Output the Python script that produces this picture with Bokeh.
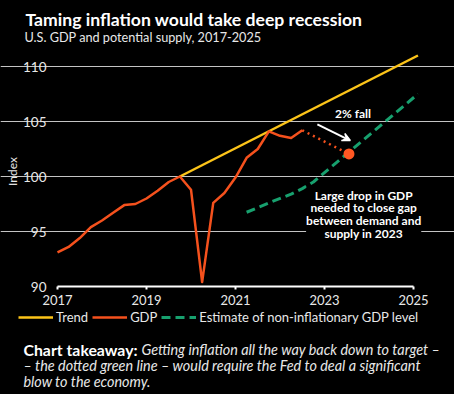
from math import pi
from bokeh.plotting import figure
from bokeh.models import Range1d, Label, Arrow, VeeHead, Legend, LegendItem, FixedTicker
from bokeh.embed import file_html
from bokeh.resources import INLINE

# ---- data ----
gdp_t = [2017.00, 2017.25, 2017.50, 2017.75, 2018.00, 2018.25, 2018.50, 2018.75,
         2019.00, 2019.25, 2019.50, 2019.75, 2020.00, 2020.25, 2020.50, 2020.75,
         2021.00, 2021.25, 2021.50, 2021.75, 2022.00, 2022.25, 2022.50]
gdp_v = [93.1, 93.6, 94.4, 95.4, 96.0, 96.7, 97.4, 97.5,
         98.0, 98.7, 99.5, 100.0, 98.8, 90.4, 97.6, 98.5,
         99.9, 101.7, 102.5, 104.1, 103.7, 103.5, 104.2]
trend_t = [2019.75, 2025.1]
trend_v = [100.0, 111.0]
est_t = [2021.25, 2021.75, 2022.25, 2022.50, 2022.75, 2023.00, 2025.10]
est_v = [96.75, 97.6, 98.4, 98.9, 99.5, 100.35, 107.5]
drop_t = [2022.50, 2023.55]
drop_v = [104.2, 102.05]
x_ticks = [2017, 2019, 2021, 2023, 2025]
y_ticks = [90, 95, 100, 105, 110]
grid_ticks = [95, 100, 105, 110]

FONT = "Lato"
TRENDC = "#fcc419"
GDPC = "#f5511d"
ESTC = "#17a06e"
TXT = "#e8e8e8"

W, H = 454, 394
# plot area: 2017 -> x=57px, 44.5 px/yr ; 90 -> y=286px, 11 px/unit (frame = whole canvas)
PX_YR, PX_U = 44.5, 11.0
x0 = 2017 - 57 / PX_YR
x1 = x0 + W / PX_YR
y0 = 90 - (H - 286) / PX_U
y1 = y0 + H / PX_U

p = figure(width=W, height=H, x_range=Range1d(x0, x1), y_range=Range1d(y0, y1),
           output_backend="svg", toolbar_location=None, title=None,
           min_border=0, min_border_left=0, min_border_right=0, min_border_top=0, min_border_bottom=0,
           background_fill_color="black", border_fill_color="black", outline_line_color=None)

try:
    from bokeh.models import GlobalInlineStyleSheet
    p.stylesheets = [GlobalInlineStyleSheet(css="html,body{margin:0;padding:0;background:#000;overflow:hidden;}")]
except Exception:
    pass

# grid
p.xgrid.visible = False
p.ygrid.ticker = FixedTicker(ticks=grid_ticks)
p.ygrid.bounds = (2017, 2025.09)
p.ygrid.grid_line_color = "#c4c4c4"
p.ygrid.grid_line_width = 1

# axes (anchored inside the canvas)
p.xaxis.fixed_location = 90
p.xaxis.ticker = FixedTicker(ticks=x_ticks)
p.xaxis.bounds = (2017, 2025)
p.xaxis.axis_line_color = "white"
p.xaxis.axis_line_width = 2
p.xaxis.major_tick_line_color = "white"
p.xaxis.major_tick_line_width = 2
p.xaxis.major_tick_in = 0
p.xaxis.major_tick_out = 3
p.xaxis.minor_tick_line_color = None
p.xaxis.major_label_standoff = 5
p.xaxis.major_label_text_color = TXT
p.xaxis.major_label_text_font = FONT
p.xaxis.major_label_text_font_size = "13px"

p.yaxis.fixed_location = 2017
p.yaxis.ticker = FixedTicker(ticks=y_ticks)
p.yaxis.axis_line_color = None
p.yaxis.major_tick_line_color = None
p.yaxis.minor_tick_line_color = None
p.yaxis.major_tick_in = 0
p.yaxis.major_tick_out = 0
p.yaxis.major_label_standoff = 11
p.yaxis.major_label_text_color = TXT
p.yaxis.major_label_text_font = FONT
p.yaxis.major_label_text_font_size = "13.5px"

# series
r_trend = p.line(trend_t, trend_v, line_color=TRENDC, line_width=2.5)
r_gdp = p.line(gdp_t, gdp_v, line_color=GDPC, line_width=2.5, line_join="round")
r_est = p.line(est_t, est_v, line_color=ESTC, line_width=3, line_dash="9 5")
p.line(drop_t, drop_v, line_color=GDPC, line_width=2.5, line_dash="2 4")
p.scatter(drop_t[-1:], drop_v[-1:], size=11, fill_color="#ff5722", line_color=None)

# annotations
p.add_layout(Arrow(end=VeeHead(size=8, line_color="white", fill_color="white", line_width=1.5),
                   x_start=2022.84, y_start=104.73, x_end=2023.58, y_end=103.27,
                   line_color="white", line_width=2))
p.add_layout(Label(x=2023.64, y=105.7, text="2% fall", text_align="center", text_baseline="middle",
                   text_color="white", text_font=FONT, text_font_style="bold",
                   text_font_size="12px"))
p.add_layout(Label(x=2023.88, y=96.55,
                   text="Large drop in GDP\nneeded to close gap\nbetween demand and\nsupply in 2023",
                   text_align="center", text_baseline="middle", text_line_height=0.86,
                   text_color="white", text_font=FONT, text_font_style="bold",
                   text_font_size="12px", background_fill_color="black"))

def scr(x, y):
    return dict(x=x, y=H - y, x_units="screen", y_units="screen")

# y axis title
p.add_layout(Label(**scr(12.3, 171), text="Index", angle=pi / 2,
                   text_align="center", text_baseline="middle", text_color=TXT,
                   text_font=FONT, text_font_size="12px"))

# titles
p.add_layout(Label(**scr(25, 18.5), text="Taming inflation would take deep recession",
                   text_baseline="alphabetic", text_color="white", text_font=FONT,
                   text_font_style="bold", text_font_size="17.6px"))
p.add_layout(Label(**scr(24, 36), text="U.S. GDP and potential supply, 2017-2025",
                   text_baseline="alphabetic", text_color=TXT, text_font=FONT,
                   text_font_size="12.7px"))

# legend
legend = Legend(items=[LegendItem(label="Trend", renderers=[r_trend]),
                       LegendItem(label="GDP", renderers=[r_gdp]),
                       LegendItem(label="Estimate of non-inflationary GDP level", renderers=[r_est])],
                orientation="horizontal", location=(18, H - 325), glyph_width=35, glyph_height=14,
                label_height=14, label_standoff=3, spacing=4, padding=0, margin=0,
                border_line_color=None, background_fill_alpha=0,
                label_text_color=TXT, label_text_font=FONT, label_text_font_size="13px")
p.add_layout(legend)

# takeaway
p.add_layout(Label(**scr(23, 349), text="Chart takeaway:", text_baseline="alphabetic",
                   text_color="white", text_font=FONT, text_font_style="bold",
                   text_font_size="15.8px"))
p.add_layout(Label(**scr(141, 349),
                   text="Getting inflation all the way back down to target \u2013",
                   text_baseline="alphabetic", text_color=TXT, text_font=FONT,
                   text_font_style="italic", text_font_size="14.4px"))
p.add_layout(Label(**scr(23, 365),
                   text="\u2013 the dotted green line \u2013 would require the Fed to deal a significant",
                   text_baseline="alphabetic", text_color=TXT, text_font=FONT,
                   text_font_style="italic", text_font_size="14.4px"))
p.add_layout(Label(**scr(23, 381), text="blow to the economy.",
                   text_baseline="alphabetic", text_color=TXT, text_font=FONT,
                   text_font_style="italic", text_font_size="14.4px"))

open("out.html", "w").write(file_html(p, INLINE))
